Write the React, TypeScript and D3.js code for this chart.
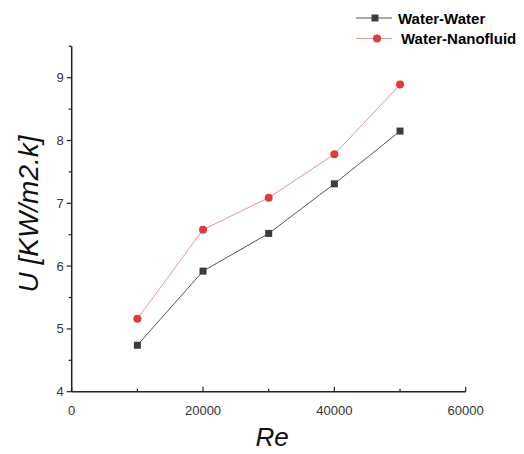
import React from "react";
import * as d3 from "d3";

const reValues = [10000, 20000, 30000, 40000, 50000];
const waterWater = [4.74, 5.92, 6.52, 7.31, 8.15];
const waterNano = [5.16, 6.58, 7.09, 7.78, 8.89];
const xTicks = [0, 20000, 40000, 60000];
const xMinorTicks = [10000, 30000, 50000];
const yTicks = [4, 5, 6, 7, 8, 9];
const yMinorTicks = [4.5, 5.5, 6.5, 7.5, 8.5, 9.5];
const seriesNames = ["Water-Water", "Water-Nanofluid"];

const W = 524;
const H = 454;
const FONT = "'Liberation Sans', Arial, sans-serif";

export default function App() {
  const x = d3.scaleLinear().domain([0, 60000]).range([71.7, 465.7]);
  const y = d3.scaleLinear().domain([4, 9]).range([391.7, 77.7]);
  const line = d3
    .line<number>()
    .x((_, i) => x(reValues[i]))
    .y((d) => y(d));

  const axisY = y(4);
  const axisX = x(0);

  return (
    <svg
      width={W}
      height={H}
      style={{ position: "absolute", left: 0, top: 0, background: "#fff" }}
      fontFamily={FONT}
    >
      <rect width={W} height={H} fill="#fff" />
      {/* series lines */}
      <path d={line(waterWater) || ""} fill="none" stroke="#555" strokeWidth={1} />
      <path d={line(waterNano) || ""} fill="none" stroke="#d99" strokeWidth={1} />
      {waterWater.map((v, i) => (
        <rect
          key={"ww" + i}
          x={x(reValues[i]) - 3.5}
          y={y(v) - 3.5}
          width={7}
          height={7}
          fill="#3c3c3c"
        />
      ))}
      {waterNano.map((v, i) => (
        <circle key={"wn" + i} cx={x(reValues[i])} cy={y(v)} r={4} fill="#e03a3a" />
      ))}

      {/* axes */}
      <line x1={axisX} x2={x(60000)} y1={axisY} y2={axisY} stroke="#222" strokeWidth={1.5} />
      <line x1={axisX} x2={axisX} y1={axisY} y2={y(9.5)} stroke="#222" strokeWidth={1.5} />
      {xTicks.map((t) => (
        <g key={"xt" + t}>
          <line x1={x(t)} x2={x(t)} y1={axisY} y2={axisY - 5} stroke="#222" strokeWidth={1.2} />
          <text x={x(t)} y={415} textAnchor="middle" fontSize={13} fill="#333">
            {t}
          </text>
        </g>
      ))}
      {xMinorTicks.map((t) => (
        <line key={"xm" + t} x1={x(t)} x2={x(t)} y1={axisY} y2={axisY - 3} stroke="#222" strokeWidth={1.2} />
      ))}
      {yTicks.map((t) => (
        <g key={"yt" + t}>
          <line x1={axisX - 5} x2={axisX} y1={y(t)} y2={y(t)} stroke="#222" strokeWidth={1.2} />
          <text x={axisX - 8} y={y(t) + 4.5} textAnchor="end" fontSize={13} fill="#333">
            {t}
          </text>
        </g>
      ))}
      {yMinorTicks.map((t) => (
        <line key={"ym" + t} x1={axisX - 3} x2={axisX} y1={y(t)} y2={y(t)} stroke="#222" strokeWidth={1.2} />
      ))}

      {/* axis titles */}
      <text
        transform={`translate(38, 214) rotate(-90)`}
        textAnchor="middle"
        fontSize={28}
        fontStyle="italic"
        fill="#111"
      >
        U [KW/m2.k]
      </text>
      <text x={272} y={446} textAnchor="middle" fontSize={26} fontStyle="italic" fill="#111">
        Re
      </text>

      {/* legend */}
      <g>
        <line x1={356} x2={392} y1={18} y2={18} stroke="#555" strokeWidth={1} />
        <rect x={375 - 3.5} y={18 - 3.5} width={7} height={7} fill="#3c3c3c" />
        <text x={398} y={23.5} fontSize={15} fontWeight="bold" fill="#000">
          {seriesNames[0]}
        </text>
        <line x1={356} x2={392} y1={38.5} y2={38.5} stroke="#d99" strokeWidth={1} />
        <circle cx={377} cy={38.5} r={4} fill="#e03a3a" />
        <text x={401} y={44} fontSize={15} fontWeight="bold" fill="#000">
          {seriesNames[1]}
        </text>
      </g>
    </svg>
  );
}
